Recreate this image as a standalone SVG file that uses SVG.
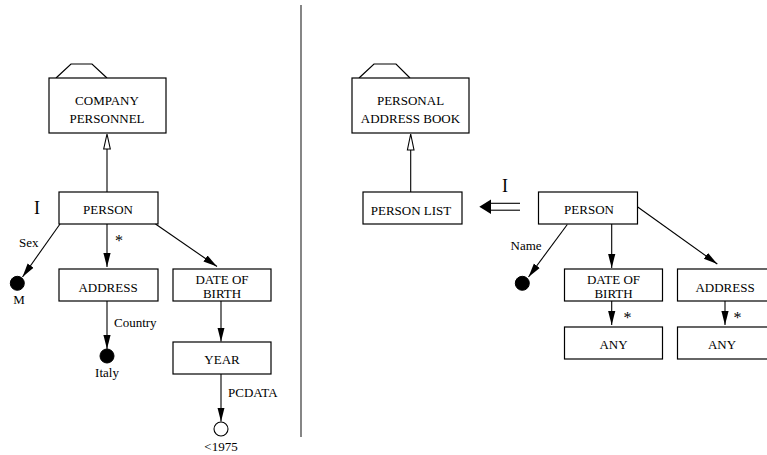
<svg xmlns="http://www.w3.org/2000/svg" width="767" height="455" viewBox="0 0 767 455">
<style>
.box{fill:#fff;stroke:#000;stroke-width:1.2}
.tab{fill:none;stroke:#000;stroke-width:1.2}
.t{font-family:"Liberation Serif","Times New Roman",serif;font-size:13px;fill:#000;text-anchor:middle}
.l{font-family:"Liberation Serif","Times New Roman",serif;font-size:13px;fill:#000}
.big{font-family:"Liberation Serif","Times New Roman",serif;font-size:18px;fill:#000;text-anchor:middle}
.ast{font-family:"Liberation Serif","Times New Roman",serif;font-size:16px;fill:#000}
.e{fill:none;stroke:#000;stroke-width:1.1}
.a{fill:none;stroke:#000;stroke-width:1.1;marker-end:url(#ah)}
.dot{fill:#000;stroke:#000}
.hollow{fill:#fff;stroke:#000;stroke-width:1.1}
</style>
<defs>
<marker id="ah" viewBox="-14 -5 15 10" refX="0" refY="0" markerWidth="15" markerHeight="10" markerUnits="userSpaceOnUse" orient="auto">
<path d="M0,0 L-14,-3.6 L-14,3.6 Z" fill="#000"/>
</marker>
</defs>

<line x1="301" y1="5" x2="301" y2="437" stroke="#444" stroke-width="1.3"/>

<g id="company-personnel">
<polyline class="tab" points="56,78 71,64 92,64 107,78"/>
<rect class="box" x="49" y="78" width="117" height="55"/>
<text class="t" x="107" y="105">COMPANY</text>
<text class="t" x="107" y="122.7">PERSONNEL</text>
</g>
<g id="person-left">
<rect class="box" x="59" y="192" width="99" height="32"/>
<text class="t" x="108" y="214">PERSON</text>
</g>
<text class="big" x="37" y="214">I</text>
<g id="m">
<circle class="dot" cx="17.3" cy="283.3" r="7"/>
<text class="t" x="19" y="304">M</text>
</g>
<g id="address-left">
<rect class="box" x="59" y="269" width="99" height="32"/>
<text class="t" x="108" y="291.7">ADDRESS</text>
</g>
<g id="dob-left">
<rect class="box" x="173" y="269" width="98" height="32"/>
<text class="t" x="222" y="283.7">DATE OF</text>
<text class="t" x="222" y="298.3">BIRTH</text>
</g>
<g id="italy">
<circle class="dot" cx="107" cy="356" r="7"/>
<text class="t" x="107" y="377">Italy</text>
</g>
<g id="year">
<rect class="box" x="173" y="342" width="98" height="32"/>
<text class="t" x="222" y="364">YEAR</text>
</g>
<g id="lt1975">
<circle class="hollow" cx="221" cy="429" r="7"/>
<text class="t" x="221" y="451">&lt;1975</text>
</g>

<g id="personal-address-book">
<polyline class="tab" points="359,78 374,64 396,64 410,78"/>
<rect class="box" x="352" y="78" width="117" height="55"/>
<text class="t" x="410.5" y="105">PERSONAL</text>
<text class="t" x="410.5" y="122.7">ADDRESS BOOK</text>
</g>
<g id="person-list">
<rect class="box" x="363" y="192" width="99" height="32"/>
<text class="t" x="411" y="214.5">PERSON LIST</text>
</g>
<g id="person-right">
<rect class="box" x="538.5" y="192" width="99" height="32"/>
<text class="t" x="589" y="214">PERSON</text>
</g>
<text class="big" x="505" y="191.7">I</text>
<g id="name-dot">
<circle class="dot" cx="522.3" cy="283.3" r="7"/>
</g>
<g id="dob-right">
<rect class="box" x="564.5" y="269" width="98" height="32"/>
<text class="t" x="613.5" y="284">DATE OF</text>
<text class="t" x="613.5" y="298">BIRTH</text>
</g>
<g id="address-right">
<rect class="box" x="677.5" y="269" width="92" height="32"/>
<text class="t" x="725" y="291.7">ADDRESS</text>
</g>
<g id="any1">
<rect class="box" x="564.5" y="327" width="98" height="32"/>
<text class="t" x="613.5" y="349.3">ANY</text>
</g>
<g id="any2">
<rect class="box" x="677.5" y="327" width="92" height="32"/>
<text class="t" x="722" y="349.3">ANY</text>
</g>

<g id="connectors">
<line class="e" x1="107" y1="192" x2="107" y2="149"/>
<path class="hollow" d="M107,134 L103.7,149 L110.3,149 Z"/>
<line class="a" x1="60" y1="224" x2="22.5" y2="277"/>
<text class="l" x="19" y="247">Sex</text>
<line class="a" x1="107" y1="224" x2="107" y2="267"/>
<text class="ast" x="115" y="246">*</text>
<line class="a" x1="155.5" y1="224" x2="217" y2="266.5"/>
<line class="a" x1="107" y1="301" x2="107" y2="349"/>
<text class="l" x="114" y="327">Country</text>
<line class="a" x1="221" y1="301" x2="221" y2="341.5"/>
<line class="a" x1="221" y1="374" x2="221" y2="421.5"/>
<text class="l" x="228" y="397">PCDATA</text>

<line class="e" x1="410.7" y1="192" x2="410.7" y2="150"/>
<path class="hollow" d="M410.7,134 L407.4,150 L414,150 Z"/>
<line class="e" x1="490" y1="203.3" x2="520" y2="203.3"/>
<line class="e" x1="490" y1="210.2" x2="520" y2="210.2"/>
<path d="M479.3,206.7 L491,199.5 L491,213.9 Z" fill="#000"/>
<line class="a" x1="567.3" y1="224.5" x2="528.5" y2="277"/>
<text class="l" x="510.5" y="250">Name</text>
<line class="a" x1="611.7" y1="224" x2="611.7" y2="268"/>
<line class="a" x1="637.7" y1="207" x2="717.3" y2="264"/>
<line class="a" x1="611.7" y1="301" x2="611.7" y2="325"/>
<text class="ast" x="623.5" y="322.5">*</text>
<line class="a" x1="725" y1="301" x2="725" y2="325"/>
<text class="ast" x="733.5" y="322.5">*</text>
</g>
</svg>
